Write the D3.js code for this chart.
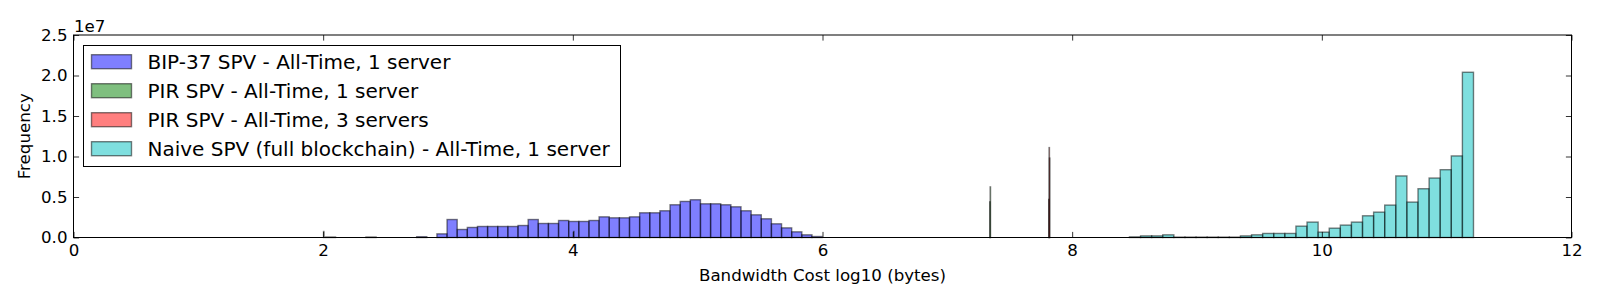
<!DOCTYPE html>
<html>
<head>
<meta charset="utf-8">
<script src="https://cdn.jsdelivr.net/npm/d3@7"></script>
<style>
  html, body { margin: 0; padding: 0; background: #fff; }
  svg { display: block; }
  text { font-family: "DejaVu Sans", sans-serif; fill: #000; }
</style>
</head>
<body>
<svg id="chart" width="1600" height="300"></svg>
<script>
// ---------------- DATA ----------------
const seriesLabels = [
  "BIP-37 SPV - All-Time, 1 server",
  "PIR SPV - All-Time, 1 server",
  "PIR SPV - All-Time, 3 servers",
  "Naive SPV (full blockchain) - All-Time, 1 server"
];
const seriesColors = ["#0000ff", "#008000", "#ff0000", "#00bfbf"];

// BIP-37: histogram bins (log10 bytes)
const bip37BinStart = 2.018;
const bip37BinWidth = 0.0812;
const bip37Counts = [
  0.06e6, 0, 0, 0, 0.06e6, 0, 0, 0, 0, 0.10e6,
  0, 0.45e6, 2.22e6, 0.99e6, 1.24e6, 1.36e6, 1.36e6, 1.36e6, 1.36e6, 1.48e6,
  2.22e6, 1.73e6, 1.73e6, 2.10e6, 1.98e6, 1.98e6, 2.10e6, 2.55e6, 2.43e6, 2.43e6,
  2.55e6, 3.05e6, 3.05e6, 3.30e6, 4.04e6, 4.45e6, 4.66e6, 4.16e6, 4.16e6, 4.04e6,
  3.79e6, 3.30e6, 2.80e6, 2.31e6, 1.69e6, 1.19e6, 0.70e6, 0.33e6, 0.12e6
];

// PIR SPV, 1 server: very narrow bins
const pirBinWidth = 0.003;
const pirOneEdges = [2.003, 4.006, 7.340, 7.343];
const pirOneCounts = [0.74e6, 0.74e6, 4.4e6, 6.25e6];

// PIR SPV, 3 servers
const pirThreeEdges = [7.812, 7.815, 7.818];
const pirThreeCounts = [4.7e6, 11.1e6, 9.8e6];

// Naive SPV
const naiveBinStart = 8.459;
const naiveBinWidth = 0.0889;
const naiveCounts = [
  0.08e6, 0.20e6, 0.20e6, 0.33e6, 0.05e6, 0.05e6, 0.05e6, 0.05e6, 0.05e6, 0.05e6,
  0.20e6, 0.33e6, 0.50e6, 0.50e6, 0.50e6, 1.40e6, 1.90e6, 0.66e6, 1.15e6, 1.53e6,
  1.90e6, 2.68e6, 3.13e6, 4.00e6, 7.60e6, 4.37e6, 6.02e6, 7.34e6, 8.37e6, 10.07e6,
  20.4e6
];

const xTicks = [0, 2, 4, 6, 8, 10, 12];
const yTicks = [0, 0.5e7, 1.0e7, 1.5e7, 2.0e7, 2.5e7];
const yTickLabels = ["0.0", "0.5", "1.0", "1.5", "2.0", "2.5"];
const xLabel = "Bandwidth Cost log10 (bytes)";
const yLabel = "Frequency";
const offsetLabel = "1e7";

// ---------------- LAYOUT ----------------
const L = 73.5, R = 1571.5, T = 35, B = 237.5;
const svg = d3.select("#chart");
const x = d3.scaleLinear().domain([0, 12]).range([L, R]);
const y = d3.scaleLinear().domain([0, 2.5e7]).range([B, T]);

const bip37 = bip37Counts.map((v, i) => ({ x0: bip37BinStart + i * bip37BinWidth, x1: bip37BinStart + (i + 1) * bip37BinWidth, v }));
const pirOne = pirOneCounts.map((v, i) => ({ x0: pirOneEdges[i], x1: pirOneEdges[i] + pirBinWidth, v }));
const pirThree = pirThreeCounts.map((v, i) => ({ x0: pirThreeEdges[i], x1: pirThreeEdges[i] + pirBinWidth, v }));
const naive = naiveCounts.map((v, i) => ({ x0: naiveBinStart + i * naiveBinWidth, x1: naiveBinStart + (i + 1) * naiveBinWidth, v }));
const allSeries = [bip37, pirOne, pirThree, naive];

const plot = svg.append("g");
allSeries.forEach((data, si) => {
  const c = d3.color(seriesColors[si]);
  c.opacity = 0.5;
  plot.append("g").selectAll("rect").data(data).join("rect")
    .attr("x", d => x(d.x0))
    .attr("width", d => Math.max(0, x(d.x1) - x(d.x0)))
    .attr("y", d => y(d.v))
    .attr("height", d => y(0) - y(d.v))
    .attr("fill", c.formatRgb())
    .attr("stroke", "rgba(0,0,0,0.5)")
    .attr("stroke-width", 1.39);
});

// Axes (ticks inward on all four sides)
const tickLen = 5.6;
const fs = 16.67;
const gx = svg.append("g").attr("transform", `translate(0,${B})`)
  .call(d3.axisBottom(x).tickValues(xTicks).tickFormat(d3.format("d")).tickSizeInner(-tickLen).tickSizeOuter(0).tickPadding(7));
const gxt = svg.append("g").attr("transform", `translate(0,${T})`)
  .call(d3.axisTop(x).tickValues(xTicks).tickFormat("").tickSizeInner(-tickLen).tickSizeOuter(0));
const gy = svg.append("g").attr("transform", `translate(${L},0)`)
  .call(d3.axisLeft(y).tickValues(yTicks).tickFormat((d, i) => yTickLabels[i]).tickSizeInner(-tickLen).tickSizeOuter(0).tickPadding(6));
const gyr = svg.append("g").attr("transform", `translate(${R},0)`)
  .call(d3.axisRight(y).tickValues(yTicks).tickFormat("").tickSizeInner(-tickLen).tickSizeOuter(0));
[gx, gxt, gy, gyr].forEach(g => {
  g.select(".domain").remove();
  g.selectAll(".tick line").attr("stroke", "#000").attr("stroke-width", 0.8);
  g.selectAll("text").attr("font-family", "DejaVu Sans").attr("font-size", fs).attr("fill", "#000");
});

// Frame
svg.append("rect").attr("x", L).attr("y", T).attr("width", R - L).attr("height", B - T)
  .attr("fill", "none").attr("stroke", "#000").attr("stroke-width", 1);

// Offset text
svg.append("text").attr("x", L + 0.5).attr("y", T - 3.5).attr("font-size", fs).text(offsetLabel);

// Axis labels
svg.append("text").attr("x", (L + R) / 2).attr("y", 281).attr("text-anchor", "middle")
  .attr("font-size", fs).text(xLabel);
svg.append("text").attr("transform", `translate(29.5,${(T + B) / 2}) rotate(-90)`)
  .attr("text-anchor", "middle").attr("font-size", fs).text(yLabel);

// Legend
const lg = svg.append("g");
lg.append("rect").attr("x", 83.5).attr("y", 45.5).attr("width", 537).attr("height", 121)
  .attr("fill", "#fff").attr("stroke", "#000").attr("stroke-width", 1);
const rowY = [61.7, 90.7, 119.7, 148.7];
seriesLabels.forEach((lab, i) => {
  const c = d3.color(seriesColors[i]);
  c.opacity = 0.5;
  lg.append("rect").attr("x", 91.5).attr("y", rowY[i] - 7).attr("width", 40).attr("height", 14)
    .attr("fill", c.formatRgb()).attr("stroke", "rgba(0,0,0,0.5)").attr("stroke-width", 1.39);
  lg.append("text").attr("x", 147.5).attr("y", rowY[i] + 7.2).attr("font-size", 20).text(lab);
});
</script>
</body>
</html>
